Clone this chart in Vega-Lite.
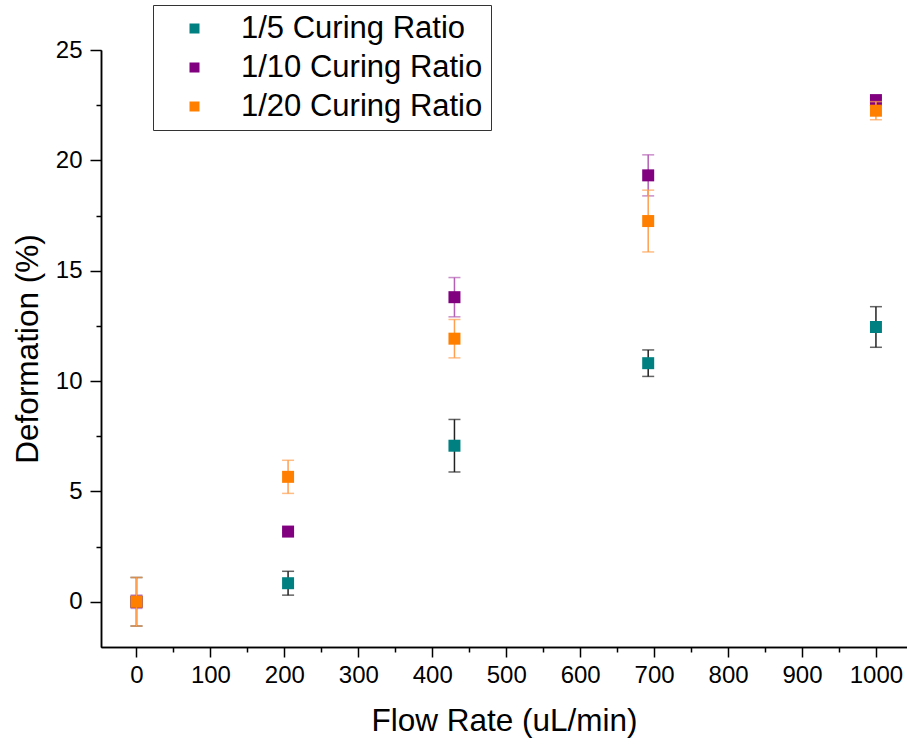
{
  "$schema": "https://vega.github.io/schema/vega-lite/v6.json",
  "width": 806,
  "height": 597,
  "autosize": {"type": "none"},
  "padding": {"left": 101, "top": 50, "right": 0, "bottom": 97},
  "background": "white",
  "config": {
    "view": {"stroke": null},
    "font": "Liberation Sans",
    "axis": {
      "grid": false,
      "domainColor": "black",
      "domainWidth": 1.5,
      "tickColor": "black",
      "tickWidth": 1.5,
      "labelColor": "black",
      "titleColor": "black",
      "labelFont": "Liberation Sans",
      "titleFont": "Liberation Sans",
      "labelFontSize": 24,
      "titleFontSize": 31.5,
      "titleFontWeight": "normal"
    },
    "legend": {
      "labelFont": "Liberation Sans",
      "labelFontSize": 31,
      "labelColor": "black"
    }
  },
  "data": {
    "values": [
      {"series": "1/5 Curing Ratio", "flow": 0, "def": 0, "err": 1.1},
      {"series": "1/5 Curing Ratio", "flow": 205, "def": 0.84, "err": 0.54},
      {"series": "1/5 Curing Ratio", "flow": 430, "def": 7.07, "err": 1.19},
      {"series": "1/5 Curing Ratio", "flow": 692, "def": 10.81, "err": 0.6},
      {"series": "1/5 Curing Ratio", "flow": 1000, "def": 12.45, "err": 0.92},
      {"series": "1/10 Curing Ratio", "flow": 0, "def": 0, "err": 0.3},
      {"series": "1/10 Curing Ratio", "flow": 205, "def": 3.18, "err": 0.05},
      {"series": "1/10 Curing Ratio", "flow": 430, "def": 13.8, "err": 0.89},
      {"series": "1/10 Curing Ratio", "flow": 692, "def": 19.32, "err": 0.93},
      {"series": "1/10 Curing Ratio", "flow": 1000, "def": 22.73, "err": 0.1},
      {"series": "1/20 Curing Ratio", "flow": 0, "def": 0, "err": 1.1},
      {"series": "1/20 Curing Ratio", "flow": 205, "def": 5.66, "err": 0.75},
      {"series": "1/20 Curing Ratio", "flow": 430, "def": 11.92, "err": 0.87},
      {"series": "1/20 Curing Ratio", "flow": 692, "def": 17.25, "err": 1.4},
      {"series": "1/20 Curing Ratio", "flow": 1000, "def": 22.25, "err": 0.41}
    ]
  },
  "resolve": {"axis": {"x": "independent", "y": "independent"}},
  "layer": [
    {
      "transform": [{"filter": "datum.series === '1/5 Curing Ratio'"}],
      "mark": {"type": "errorbar", "ticks": {"size": 12}, "thickness": 1.5, "color": "#222222"},
      "encoding": {
        "x": {"field": "flow", "type": "quantitative", "scale": {"domain": [-48, 1042], "nice": false, "zero": false},
          "axis": {"orient": "bottom", "values": [-50, 50, 150, 250, 350, 450, 550, 650, 750, 850, 950, 1050], "labels": false, "tickSize": 5, "title": null, "domain": true}},
        "y": {"field": "def", "type": "quantitative", "scale": {"domain": [-2.05, 25], "nice": false, "zero": false},
          "axis": {"orient": "left", "values": [2.5, 7.5, 12.5, 17.5, 22.5], "labels": false, "tickSize": 5, "title": null, "domain": true}},
        "yError": {"field": "err"}
      }
    },
    {
      "transform": [{"filter": "datum.series === '1/5 Curing Ratio'"}],
      "mark": {"type": "point", "shape": "square", "filled": true, "size": 144, "opacity": 1},
      "encoding": {
        "x": {"field": "flow", "type": "quantitative", "scale": {"domain": [-48, 1042], "nice": false, "zero": false},
          "axis": {"orient": "bottom", "values": [0, 100, 200, 300, 400, 500, 600, 700, 800, 900, 1000], "format": "d", "tickSize": 10, "labelPadding": 6, "title": "Flow Rate (uL/min)", "titlePadding": 18}},
        "y": {"field": "def", "type": "quantitative", "scale": {"domain": [-2.05, 25], "nice": false, "zero": false},
          "axis": {"orient": "left", "values": [0, 5, 10, 15, 20, 25], "format": "d", "tickSize": 11, "labelPadding": 8, "title": "Deformation (%)", "titlePadding": 11}},
        "color": {"field": "series", "type": "nominal",
          "scale": {"domain": ["1/5 Curing Ratio", "1/10 Curing Ratio", "1/20 Curing Ratio"], "range": ["#008080", "#800080", "#FF8000"]},
          "legend": {"title": null, "orient": "none", "legendX": 52, "legendY": -45, "symbolType": "square", "symbolSize": 100, "strokeColor": "#333333", "fillColor": "white", "padding": 8, "symbolOffset": 18, "labelOffset": 31, "rowPadding": 7, "labelLimit": 400}}
      }
    },
    {
      "transform": [{"filter": "datum.series === '1/10 Curing Ratio'"}],
      "mark": {"type": "errorbar", "ticks": {"size": 12}, "thickness": 1.5, "color": "#b460b4"},
      "encoding": {
        "x": {"field": "flow", "type": "quantitative", "scale": {"domain": [-48, 1042], "nice": false, "zero": false}, "axis": null},
        "y": {"field": "def", "type": "quantitative", "scale": {"domain": [-2.05, 25], "nice": false, "zero": false}, "axis": null},
        "yError": {"field": "err"}
      }
    },
    {
      "transform": [{"filter": "datum.series === '1/10 Curing Ratio'"}],
      "mark": {"type": "point", "shape": "square", "filled": true, "size": 144, "opacity": 1},
      "encoding": {
        "x": {"field": "flow", "type": "quantitative", "scale": {"domain": [-48, 1042], "nice": false, "zero": false}, "axis": null},
        "y": {"field": "def", "type": "quantitative", "scale": {"domain": [-2.05, 25], "nice": false, "zero": false}, "axis": null},
        "color": {"field": "series", "type": "nominal",
          "scale": {"domain": ["1/5 Curing Ratio", "1/10 Curing Ratio", "1/20 Curing Ratio"], "range": ["#008080", "#800080", "#FF8000"]},
          "legend": {"title": null, "orient": "none", "legendX": 52, "legendY": -45, "symbolType": "square", "symbolSize": 100, "strokeColor": "#333333", "fillColor": "white", "padding": 8, "symbolOffset": 18, "labelOffset": 31, "rowPadding": 7, "labelLimit": 400}}
      }
    },
    {
      "transform": [{"filter": "datum.series === '1/20 Curing Ratio'"}],
      "mark": {"type": "errorbar", "ticks": {"size": 12}, "thickness": 1.5, "color": "#ffa050"},
      "encoding": {
        "x": {"field": "flow", "type": "quantitative", "scale": {"domain": [-48, 1042], "nice": false, "zero": false}, "axis": null},
        "y": {"field": "def", "type": "quantitative", "scale": {"domain": [-2.05, 25], "nice": false, "zero": false}, "axis": null},
        "yError": {"field": "err"}
      }
    },
    {
      "transform": [{"filter": "datum.series === '1/20 Curing Ratio'"}],
      "mark": {"type": "point", "shape": "square", "filled": true, "size": 144, "opacity": 1},
      "encoding": {
        "x": {"field": "flow", "type": "quantitative", "scale": {"domain": [-48, 1042], "nice": false, "zero": false}, "axis": null},
        "y": {"field": "def", "type": "quantitative", "scale": {"domain": [-2.05, 25], "nice": false, "zero": false}, "axis": null},
        "color": {"field": "series", "type": "nominal",
          "scale": {"domain": ["1/5 Curing Ratio", "1/10 Curing Ratio", "1/20 Curing Ratio"], "range": ["#008080", "#800080", "#FF8000"]},
          "legend": {"title": null, "orient": "none", "legendX": 52, "legendY": -45, "symbolType": "square", "symbolSize": 100, "strokeColor": "#333333", "fillColor": "white", "padding": 8, "symbolOffset": 18, "labelOffset": 31, "rowPadding": 7, "labelLimit": 400}}
      }
    }
  ]
}
